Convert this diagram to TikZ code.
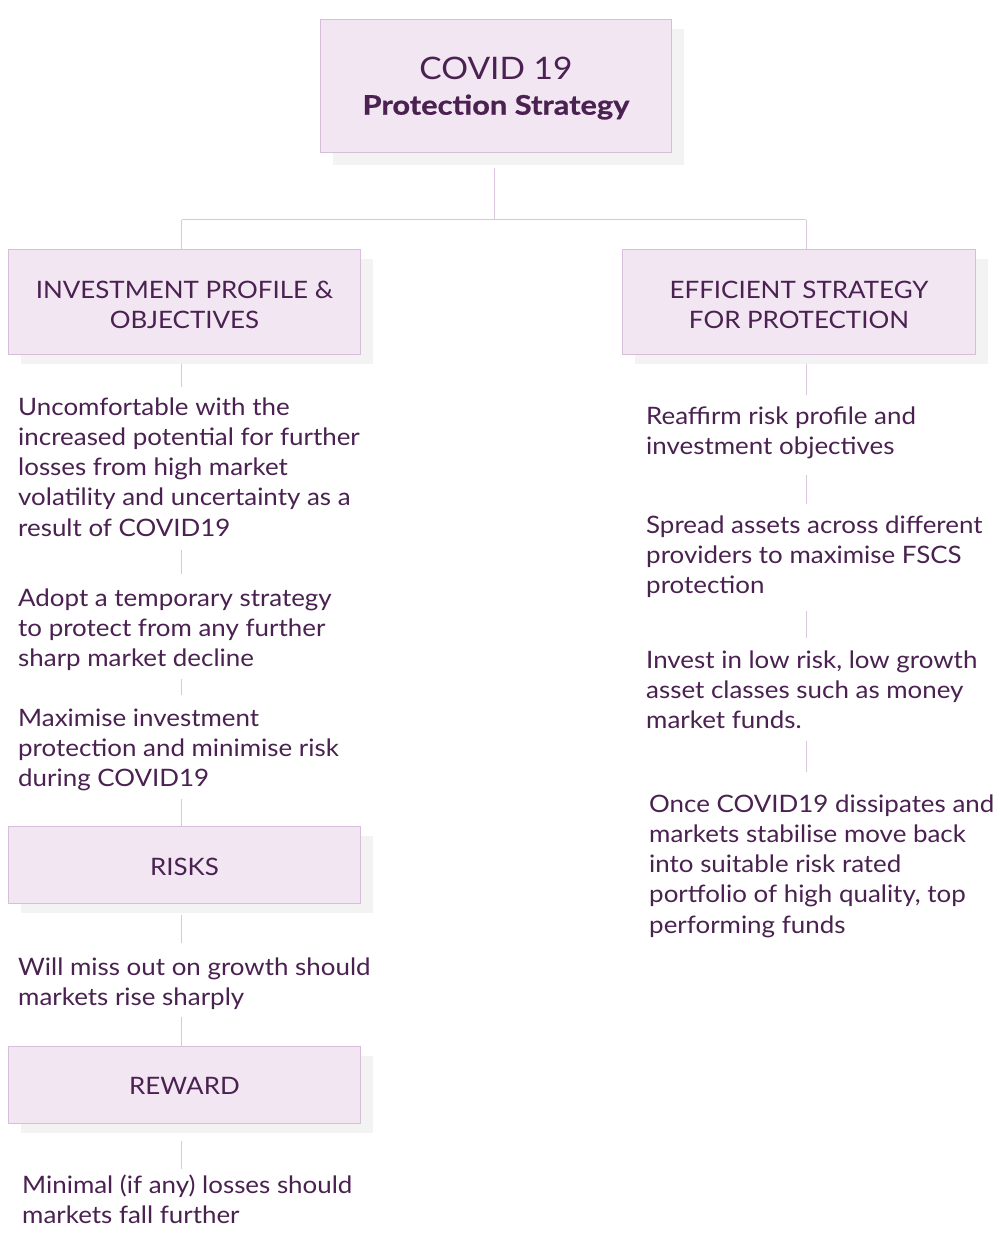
\documentclass[tikz,border=0pt]{standalone}
\usepackage{fontspec}
\setmainfont{Lato}[FakeStretch=1.08]
\newfontfamily\heavyfont{Lato}[BoldFeatures={FakeStretch=1.14,FakeBold=0.8}]
\usetikzlibrary{shadows}
\definecolor{txt}{HTML}{4A2150}
\definecolor{boxfill}{HTML}{F2E6F3}
\definecolor{boxline}{HTML}{D7BEDB}
\definecolor{shadowc}{HTML}{F3F3F3}
\definecolor{linec}{HTML}{DCC6DF}
\newcommand{\lowr}[2]{\raisebox{-#1}[\height][0pt]{#2}}
\begin{document}
\begin{tikzpicture}[x=1pt,y=-1pt,
  hbox/.style={draw=boxline, line width=0.9pt, fill=boxfill, text=txt, align=center,
    anchor=north west, inner sep=0pt, minimum width=352pt,
    font=\fontsize{24}{30}\selectfont,
    drop shadow={shadow xshift=13pt, shadow yshift=-10pt, fill=shadowc, opacity=1}},
  body/.style={text=txt, align=left, anchor=north west, inner sep=0pt,
    font=\fontsize{24}{30.2}\selectfont},
  conn/.style={draw=linec, line width=1pt}]
\useasboundingbox[fill=white] (0,0) rectangle (1000,1241);

% spine coordinates
\coordinate (lx) at (181.5,0);
\coordinate (rx) at (806,0);
\coordinate (junc) at (494,220);

% boxes
\node[hbox, minimum width=351pt, minimum height=133pt,
      drop shadow={shadow xshift=13pt, shadow yshift=-13pt, fill=shadowc, opacity=1},
      font=\fontsize{27}{35}\selectfont] (top) at (320,19)
  {{\fontsize{31}{35}\selectfont COVID 19}\\\raisebox{0pt}[\height][0pt]{\heavyfont\bfseries Protection Strategy}};
\node[hbox, minimum height=105pt] (inv) at (8,249) {\lowr{3pt}{INVESTMENT PROFILE \&}\\\lowr{3pt}{OBJECTIVES}};
\node[hbox, minimum width=353pt, minimum height=105pt] (eff) at (622,249) {\lowr{3pt}{EFFICIENT STRATEGY}\\\lowr{3pt}{FOR PROTECTION}};
\node[hbox, minimum height=77pt] (risks) at (8,826) {\lowr{2pt}{RISKS}};
\node[hbox, minimum height=77pt] (reward) at (8,1046) {\lowr{1pt}{REWARD}};

% left texts
\node[body] (t1) at (18,394) {\strut Uncomfortable with the\\increased potential for further\\losses from high market\\volatility and uncertainty as a\\result of COVID19\strut};
\node[body] (t2) at (18,585) {\strut Adopt a temporary strategy\\to protect from any further\\sharp market decline\strut};
\node[body] (t3) at (18,705) {\strut Maximise investment\\protection and minimise risk\\during COVID19\strut};
\node[body] (t4) at (18,954) {\strut Will miss out on growth should\\markets rise sharply\strut};
\node[body] (t5) at (22,1172) {\strut Minimal (if any) losses should\\markets fall further\strut};

% right texts
\node[body] (r1) at (646,403) {\strut Reaffirm risk profile and\\investment objectives\strut};
\node[body] (r2) at (646,512) {\strut Spread assets across different\\providers to maximise FSCS\\protection\strut};
\node[body] (r3) at (646,647) {\strut Invest in low risk, low growth\\asset classes such as money\\market funds.\strut};
\node[body] (r4) at (649,791) {\strut Once COVID19 dissipates and\\markets stabilise move back\\into suitable risk rated\\portfolio of high quality, top\\performing funds\strut};

% connectors
\draw[conn] ([yshift=-15pt]top.south -| junc) -- (junc);
\draw[conn] (lx |- junc) -- (rx |- junc);
\draw[conn] (lx |- junc) -- (lx |- inv.north);
\draw[conn] (rx |- junc) -- (rx |- eff.north);

\draw[conn] ([yshift=-9pt]inv.south -| lx) -- ([yshift=7pt]t1.north -| lx);
\draw[conn] ([yshift=-5pt]t1.south -| lx) -- ([yshift=11pt]t2.north -| lx);
\draw[conn] ([yshift=-3pt]t2.south -| lx) -- ([yshift=10pt]t3.north -| lx);
\draw[conn] ([yshift=-3pt]t3.south -| lx) -- (risks.north -| lx);
\draw[conn] ([yshift=-11pt]risks.south -| lx) -- ([yshift=11pt]t4.north -| lx);
\draw[conn] ([yshift=-2pt]t4.south -| lx) -- (reward.north -| lx);
\draw[conn] ([yshift=-17pt]reward.south -| lx) -- ([yshift=3pt]t5.north -| lx);

\draw[conn] ([yshift=-9pt]eff.south -| rx) -- ([yshift=8pt]r1.north -| rx);
\draw[conn] ([yshift=-11pt]r1.south -| rx) -- ([yshift=8pt]r2.north -| rx);
\draw[conn] ([yshift=-8pt]r2.south -| rx) -- ([yshift=9pt]r3.north -| rx);
\draw[conn] ([yshift=-3pt]r3.south -| rx) -- ([yshift=19pt]r4.north -| rx);
\end{tikzpicture}
\end{document}
